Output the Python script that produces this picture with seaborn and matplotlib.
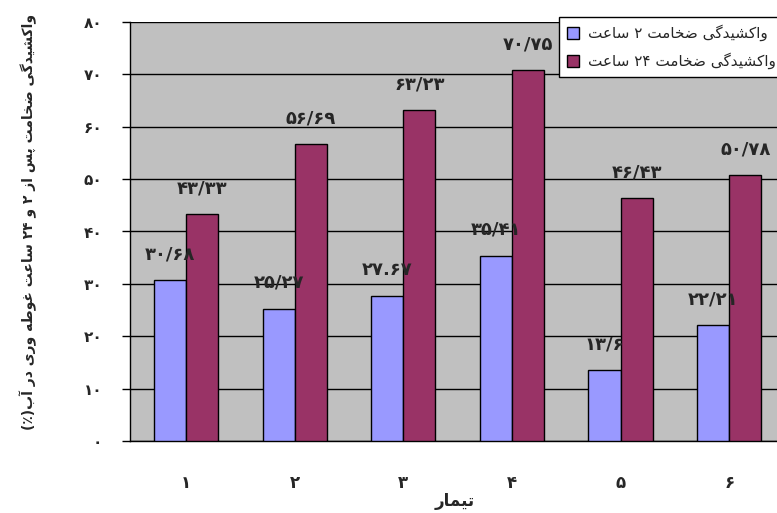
import re
import numpy as np
import pandas as pd
import seaborn as sns
import matplotlib.pyplot as plt
from matplotlib.patches import Patch

treatments = ['1', '2', '3', '4', '5', '6']
swell_2h = [30.68, 25.27, 27.67, 35.41, 13.6, 22.21]
swell_24h = [43.33, 56.69, 63.23, 70.75, 46.43, 50.78]
labels_2h = ['۳۰/۶۸', '۲۵/۲۷', '۲۷.۶۷', '۳۵/۴۱', '۱۳/۶', '۲۲/۲۱']
labels_24h = ['۴۳/۳۳', '۵۶/۶۹', '۶۳/۲۳', '۷۰/۷۵', '۴۶/۴۳', '۵۰/۷۸']
series_names = ['واکشیدگی ضخامت ۲ ساعت', 'واکشیدگی ضخامت ۲۴ ساعت']
x_title = 'تیمار'
y_title = 'واکشیدگی ضخامت پس از ۲ و ۲۴ ساعت غوطه وری در آب(٪)'
colors = ['#9999FF', '#993366']

# matplotlib has no arabic shaping -> map letters to presentation forms by hand
# (isolated, final, initial, medial)
FORMS = {
    'ا': ('\uFE8D', '\uFE8E'), 'آ': ('\uFE81', '\uFE82'),
    'د': ('\uFEA9', '\uFEAA'), 'ر': ('\uFEAD', '\uFEAE'),
    'ز': ('\uFEAF', '\uFEB0'), 'و': ('\uFEED', '\uFEEE'),
    'ب': ('\uFE8F', '\uFE90', '\uFE91', '\uFE92'),
    'ت': ('\uFE95', '\uFE96', '\uFE97', '\uFE98'),
    'خ': ('\uFEA5', '\uFEA6', '\uFEA7', '\uFEA8'),
    'س': ('\uFEB1', '\uFEB2', '\uFEB3', '\uFEB4'),
    'ش': ('\uFEB5', '\uFEB6', '\uFEB7', '\uFEB8'),
    'ض': ('\uFEBD', '\uFEBE', '\uFEBF', '\uFEC0'),
    'ط': ('\uFEC1', '\uFEC2', '\uFEC3', '\uFEC4'),
    'ع': ('\uFEC9', '\uFECA', '\uFECB', '\uFECC'),
    'غ': ('\uFECD', '\uFECE', '\uFECF', '\uFED0'),
    'م': ('\uFEE1', '\uFEE2', '\uFEE3', '\uFEE4'),
    'ه': ('\uFEE9', '\uFEEA', '\uFEEB', '\uFEEC'),
    'پ': ('\uFB56', '\uFB57', '\uFB58', '\uFB59'),
    'ک': ('\uFB8E', '\uFB8F', '\uFB90', '\uFB91'),
    'گ': ('\uFB92', '\uFB93', '\uFB94', '\uFB95'),
    'ی': ('\uFBFC', '\uFBFD', '\uFBFE', '\uFBFF'),
}


def shape(text):
    out = []
    for i, ch in enumerate(text):
        if ch not in FORMS:
            out.append(ch)
            continue
        f = FORMS[ch]
        prev = text[i - 1] if i > 0 else ''
        nxt = text[i + 1] if i + 1 < len(text) else ''
        jp = prev in FORMS and len(FORMS[prev]) == 4
        jn = len(f) == 4 and nxt in FORMS
        if jp and jn:
            out.append(f[3])
        elif jp:
            out.append(f[1])
        elif jn:
            out.append(f[2])
        else:
            out.append(f[0])
    return ''.join(out)


def rtl(text):
    tokens = re.findall(r'[0-9۰-۹]+|.', shape(text))
    return ''.join(tokens[::-1]).translate(str.maketrans('()', ')('))


fa_digits = str.maketrans('0123456789', '۰۱۲۳۴۵۶۷۸۹')

df = pd.DataFrame({
    'treatment': treatments * 2,
    'value': swell_2h + swell_24h,
    'series': [series_names[0]] * 6 + [series_names[1]] * 6,
})

sns.set_style('white')
plt.rcParams['font.family'] = ['DejaVu Sans']

fig = plt.figure(figsize=(7.77, 5.13), dpi=100)
ax = fig.add_axes([130 / 777, 1 - 441 / 513, 1 - 130 / 777, (441 - 22) / 513])
ax.set_facecolor('#C0C0C0')

sns.barplot(data=df, x='treatment', y='value', hue='series', palette=colors,
            width=0.59, gap=0, edgecolor='black', linewidth=1, saturation=1,
            legend=False, ax=ax, zorder=3)

for cont, labs in zip(ax.containers, [labels_2h, labels_24h]):
    ax.bar_label(cont, labels=labs, padding=12, fontsize=13, fontweight='bold')

ax.set_ylim(0, 80)
ax.set_xlim(-0.515, 5.44)
ax.set_yticks(range(0, 90, 10))
ax.set_yticklabels([str(v).translate(fa_digits) for v in range(0, 90, 10)],
                   fontsize=11, fontweight='bold')
ax.set_xticks(range(6))
ax.set_xticklabels([t.translate(fa_digits) for t in treatments],
                   fontsize=12, fontweight='bold')
ax.set_xticks(np.arange(-0.5, 5.5, 1), minor=True)
ax.tick_params(axis='x', which='major', length=0, pad=24)
ax.tick_params(axis='x', which='minor', length=6, width=1, color='black')
ax.tick_params(axis='y', length=6, width=1, color='black', left=True, pad=14)
ax.yaxis.grid(True, color='black', linewidth=1, zorder=0)
ax.set_axisbelow(True)
for s in ['top', 'right']:
    ax.spines[s].set_visible(False)
for s in ['left', 'bottom']:
    ax.spines[s].set_color('black')
    ax.spines[s].set_linewidth(1)

ax.set_xlabel(rtl(x_title), fontsize=12, fontweight='bold')
ax.xaxis.set_label_coords((455 - 130) / 647, -0.122)
ax.set_ylabel('')
fig.text(28 / 777, 1 - 222 / 513, rtl(y_title), rotation=90, ha='center', va='center',
         fontsize=10, fontweight='bold')

handles = [Patch(facecolor=c, edgecolor='black', linewidth=1) for c in colors]
leg = fig.legend(handles, [rtl(n) for n in series_names], loc='upper left',
                 bbox_to_anchor=(559 / 777, 1 - 17 / 513), borderaxespad=0,
                 fontsize=11, frameon=True, fancybox=False, edgecolor='black',
                 framealpha=1, borderpad=0.5, handlelength=0.8, handleheight=0.8,
                 handletextpad=0.6, labelspacing=0.75)
leg.get_frame().set_linewidth(1)

fig.savefig('out.png', dpi=100)
